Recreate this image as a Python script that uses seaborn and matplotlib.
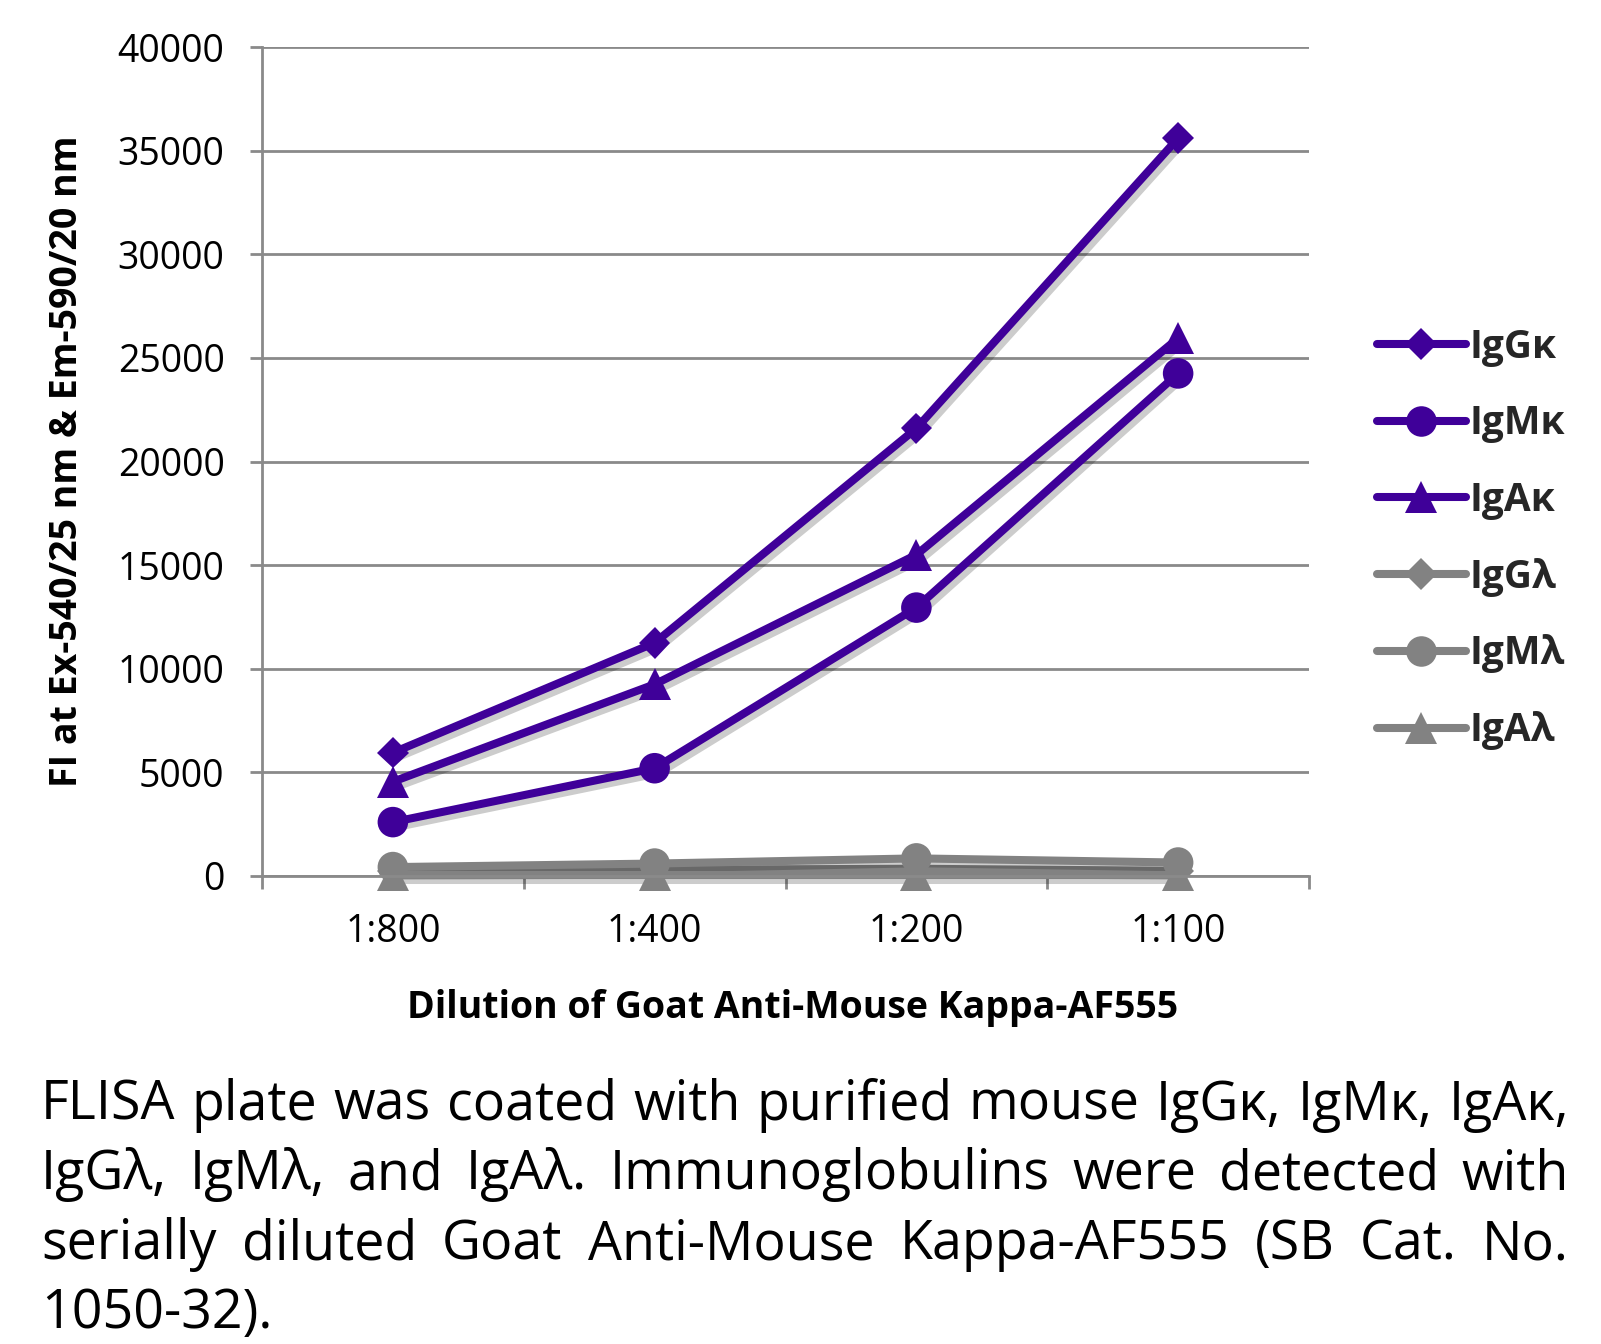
import matplotlib
matplotlib.use("Agg")
import matplotlib.pyplot as plt
import matplotlib.patheffects as pe
from matplotlib.ticker import FixedLocator, NullFormatter
import seaborn as sns
import pandas as pd

# ---------------- data ----------------
dilutions = ["1:800", "1:400", "1:200", "1:100"]
series_names = ["IgG\u03ba", "IgM\u03ba", "IgA\u03ba", "IgG\u03bb", "IgM\u03bb", "IgA\u03bb"]
igg_k = [5950, 11250, 21600, 35600]
igm_k = [2600, 5200, 12950, 24250]
iga_k = [4550, 9250, 15500, 25950]
igg_l = [250, 300, 350, 250]
igm_l = [430, 600, 850, 650]
iga_l = [60, 60, 60, 60]
values = [igg_k, igm_k, iga_k, igg_l, igm_l, iga_l]
yticks = [0, 5000, 10000, 15000, 20000, 25000, 30000, 35000, 40000]

caption_lines = [
    "FLISA plate was coated with purified mouse IgG\u03ba, IgM\u03ba, IgA\u03ba,",
    "IgG\u03bb, IgM\u03bb, and IgA\u03bb.  Immunoglobulins were detected with",
    "serially diluted Goat Anti-Mouse Kappa-AF555 (SB Cat. No.",
    "1050-32).",
]

rows = []
for name, vals in zip(series_names, values):
    for i, (d, v) in enumerate(zip(dilutions, vals)):
        rows.append({"series": name, "pos": i, "dilution": d, "FI": v})
df = pd.DataFrame(rows)

# ---------------- style ----------------
sns.set_theme(style="white")
FONT = "Open Sans"
plt.rcParams["font.family"] = [FONT, "DejaVu Sans"]

purple = "#3F0099"
gray = "#828282"
palette = {n: (purple if i < 3 else gray) for i, n in enumerate(series_names)}
marker_map = {n: m for n, m in zip(series_names, ["D", "o", "^", "D", "o", "^"])}
marker_sizes = [16, 22, 23, 16, 22, 23]

W, H = 1601, 1344
fig = plt.figure(figsize=(W / 100, H / 100), dpi=100)
ax_l, ax_r, ax_t, ax_b = 262, 1309, 47, 876
ax = fig.add_axes([ax_l / W, 1 - ax_b / H, (ax_r - ax_l) / W, (ax_b - ax_t) / H])

sns.lineplot(data=df, x="pos", y="FI", hue="series", style="series",
             hue_order=series_names, style_order=series_names,
             palette=palette, markers=marker_map, dashes=False,
             linewidth=5.8, markeredgewidth=0, errorbar=None,
             legend=False, ax=ax)

shadow = [pe.SimpleLineShadow(offset=(3, -3.5), shadow_color="black", alpha=0.2),
          pe.Normal()]
lines = ax.get_lines()[:6]
for ln, ms in zip(lines, marker_sizes):
    ln.set_markersize(ms)
    ln.set_solid_capstyle("round")
    ln.set_path_effects(shadow)
    ln.set_clip_on(False)

ax.set_xlim(-0.5, 3.5)
ax.set_ylim(0, 40000)
ax.set_yticks(yticks)
ax.set_yticklabels([str(t) for t in yticks])
ax.set_xticks(range(len(dilutions)))
ax.set_xticklabels(dilutions)
ax.xaxis.set_minor_locator(FixedLocator([-0.5, 0.5, 1.5, 2.5, 3.5]))
ax.xaxis.set_minor_formatter(NullFormatter())

gridc = "#8A8A8A"
gw = 2.0
ax.yaxis.grid(True, color=gridc, linewidth=gw)
ax.xaxis.grid(False)
ax.set_axisbelow(True)
for s in ["top", "right"]:
    ax.spines[s].set_visible(False)
for s in ["left", "bottom"]:
    ax.spines[s].set_color(gridc)
    ax.spines[s].set_linewidth(gw)

ax.tick_params(axis="y", which="major", direction="out", length=9, width=gw,
               color=gridc, pad=18, labelsize=27, labelcolor="black", left=True)
ax.tick_params(axis="x", which="major", length=0, pad=27, labelsize=27,
               labelcolor="black", bottom=True)
ax.tick_params(axis="x", which="minor", direction="out", length=9, width=gw,
               color=gridc, bottom=True)

ax.set_xlabel("Dilution of Goat Anti-Mouse Kappa-AF555", fontsize=27,
              fontweight="bold", color="black")
ax.set_ylabel("FI at Ex-540/25 nm & Em-590/20 nm", fontsize=27,
              fontweight="bold", color="black")
ax.xaxis.set_label_coords(0.507, -0.136)
ax.yaxis.set_label_coords(-0.168, 0.5)

leg = fig.legend(handles=lines, labels=series_names, loc="upper left",
                 bbox_to_anchor=(1361 / W, 1 - 312 / H), frameon=False,
                 prop={"family": [FONT, "DejaVu Sans"], "weight": "bold", "size": 28},
                 handlelength=2.3, handletextpad=0.08, labelspacing=0.97,
                 borderaxespad=0)
for h in leg.legend_handles:
    h.set_path_effects([])
    h.set_linewidth(5.8)

# ---------------- caption (justified) ----------------
fig.canvas.draw()
renderer = fig.canvas.get_renderer()
x_left, x_right = 41, 1569
cap_size = 40
baselines = [1120, 1189, 1259, 1328]

def width_of(s, size):
    t = fig.text(0, 0, s, fontsize=size, family=[FONT, "DejaVu Sans"])
    w = t.get_window_extent(renderer).width
    t.remove()
    return w

nat = width_of(caption_lines[0], cap_size)
if nat > (x_right - x_left):
    cap_size = cap_size * (x_right - x_left) / nat * 0.985

for i, line in enumerate(caption_lines):
    yb = 1 - baselines[i] / H
    if i == len(caption_lines) - 1:
        fig.text(x_left / W, yb, line, fontsize=cap_size, va="baseline", ha="left",
                 family=[FONT, "DejaVu Sans"], color="black")
        continue
    tokens = [w for w in line.split(" ") if w != ""]
    widths = [width_of(w, cap_size) for w in tokens]
    gap = ((x_right - x_left) - sum(widths)) / (len(tokens) - 1)
    x = x_left
    for w, wd in zip(tokens, widths):
        fig.text(x / W, yb, w, fontsize=cap_size, va="baseline", ha="left",
                 family=[FONT, "DejaVu Sans"], color="black")
        x += wd + gap

fig.savefig("out.png", dpi=100)
